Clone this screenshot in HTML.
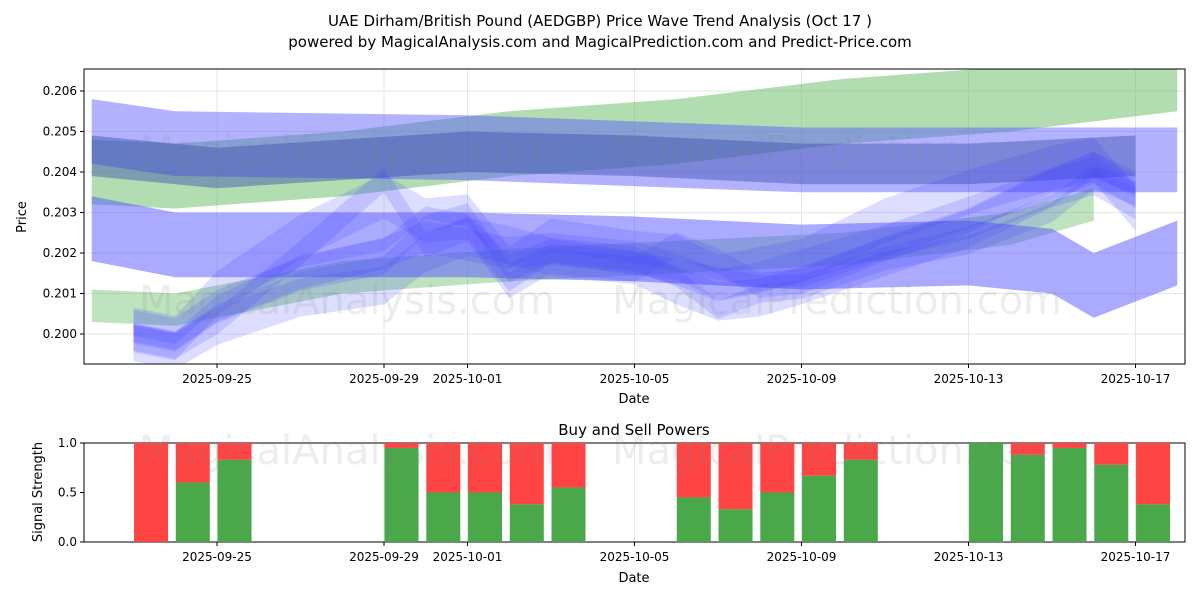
<!DOCTYPE html>
<html><head><meta charset="utf-8"><style>
body{margin:0;background:#fff;font-family:"Liberation Sans","DejaVu Sans",sans-serif}
svg text{font-family:"DejaVu Sans","Liberation Sans",sans-serif}
</style></head><body>
<svg id="c" width="1200" height="600" xmlns="http://www.w3.org/2000/svg">
<rect width="1200" height="600" fill="#fff"/>
<text x="600" y="26" text-anchor="middle" font-size="15">UAE Dirham/British Pound (AEDGBP) Price Wave Trend Analysis (Oct 17 )</text>
<text x="600" y="47" text-anchor="middle" font-size="15">powered by MagicalAnalysis.com and MagicalPrediction.com and Predict-Price.com</text>
<g id="top"></g><g id="bot"></g>
</svg>
<script>
const dayNames=["2025-09-25","2025-09-29","2025-10-01","2025-10-05","2025-10-09","2025-10-13","2025-10-17"];
const tickDays=[0,4,6,10,14,18,22];
const priceTicks=[0.200,0.201,0.202,0.203,0.204,0.205,0.206];
const greenDays1=[-3,-1,3,7,11,15,19,23];
const greenVals1=[0.2040,0.2039,0.2042,0.2047,0.2050,0.2055,0.2058,0.2063];
const greenDays2=[-3,-1,3,7,11,15,19,21];
const greenVals2=[0.2007,0.2006,0.2014,0.2017,0.2019,0.2021,0.2026,0.2032];
const bandADays=[-3,-1,6,14,23];const bandAVals=[0.2050,0.2047,0.2046,0.2043,0.2043];
const bandBDays=[-3,0,6,10,14,18,22];const bandBVals=[0.2044,0.2041,0.2045,0.2044,0.2042,0.2042,0.2044];
const bandCDays=[-3,-1,6,10,14,18,20,21,23];const bandCVals=[0.2026,0.2022,0.2022,0.2021,0.2019,0.2020,0.2018,0.2012,0.2020];
const waveDays=[-2,-1,0,2,4,5,6,7,8,10,11,12,13,14,16,18,20,21,22];
const waveVals=[
[0.2001,0.1999,0.2008,0.2018,0.2022,0.2030,0.2028,0.2018,0.2022,0.2019,0.2017,0.2015,0.2013,0.2013,0.2020,0.2025,0.2033,0.2040,0.2036],
[0.2000,0.1998,0.2005,0.2013,0.2017,0.2027,0.2030,0.2015,0.2020,0.2018,0.2014,0.2006,0.2010,0.2011,0.2018,0.2022,0.2030,0.2038,0.2034],
[0.1999,0.1997,0.2003,0.2020,0.2038,0.2022,0.2026,0.2012,0.2018,0.2016,0.2022,0.2018,0.2012,0.2013,0.2021,0.2028,0.2038,0.2042,0.2037],
[0.2002,0.2000,0.2007,0.2015,0.2020,0.2024,0.2022,0.2020,0.2021,0.2019,0.2016,0.2012,0.2014,0.2017,0.2023,0.2030,0.2037,0.2041,0.2035],
[0.1998,0.1996,0.2002,0.2009,0.2012,0.2020,0.2024,0.2022,0.2019,0.2017,0.2012,0.2008,0.2009,0.2012,0.2019,0.2026,0.2036,0.2039,0.2033],
[0.2001,0.1999,0.2010,0.2024,0.2034,0.2028,0.2029,0.2016,0.2023,0.2020,0.2019,0.2014,0.2016,0.2018,0.2028,0.2035,0.2041,0.2043,0.2031]];
const barDays=[-2,-1,0,4,5,6,7,8,11,12,13,14,15,18,19,20,21,22];
const buyVals=[0,0.6,0.83,0.95,0.5,0.5,0.38,0.55,0.45,0.33,0.5,0.67,0.83,1.0,0.88,0.95,0.78,0.38];

const NS="http://www.w3.org/2000/svg";
const L=84,R=1185,T=69,B=364,BT=443,BB=542;
const x=d=>217+d*41.75;
const y=p=>334-(p-0.2)*40500;
const yb=v=>BB-v*(BB-BT);
function el(tag,a,parent){const e=document.createElementNS(NS,tag);for(const k in a)e.setAttribute(k,a[k]);parent.appendChild(e);return e;}
const topG=document.getElementById('top'),botG=document.getElementById('bot');
const cp=el('clipPath',{id:'cp'},topG);el('rect',{x:L,y:T,width:R-L,height:B-T},cp);
for(const d of tickDays){const g=el('line',{x1:x(d),x2:x(d),y1:T,y2:B,stroke:'#e6e6e6'},topG);
const g2=el('line',{x1:x(d),x2:x(d),y1:BT,y2:BB,stroke:'#e6e6e6'},botG);}
for(const p of priceTicks){const g=el('line',{x1:L,x2:R,y1:y(p),y2:y(p),stroke:'#e6e6e6'},topG);}
const plot=el('g',{'clip-path':'url(#cp)'},topG);
function band(days,vals,hw,fill,op,name){
 const up=days.map((d,i)=>x(d)+','+y(vals[i]+hw)),dn=days.map((d,i)=>x(d)+','+y(vals[i]-hw)).reverse();
 const p=el('polygon',{points:up.concat(dn).join(' '),fill:fill,'fill-opacity':op},plot);
 }
band(greenDays1,greenVals1,0.0008,'#5cb85c',0.48,'green-band-upper');
band(greenDays2,greenVals2,0.0004,'#5cb85c',0.4,'green-band-lower');
band(bandADays,bandAVals,0.0008,'#5555ff',0.45,'blue-band-upper');
band(bandBDays,bandBVals,0.0005,'#3a4fb0',0.45,'blue-band-middle');
band(bandCDays,bandCVals,0.0008,'#5555ff',0.5,'blue-band-lower');
waveVals.forEach((v,i)=>band(waveDays,v,0.00015+i*0.00008,'#4444ff',0.18,'wave-band-'+(i+1)));
const svgRoot=document.getElementById('c');
[[347,150],[837,150],[347,300],[837,300],[347,450],[837,450]].forEach(([a,b])=>{const t=el('text',{x:a,y:b+14,'text-anchor':'middle','font-size':40,fill:'#888','fill-opacity':0.15},svgRoot);t.textContent=(a<600?'MagicalAnalysis.com':'MagicalPrediction.com');});
el('rect',{x:L,y:T,width:R-L,height:B-T,fill:'none',stroke:'#000'},topG);
el('rect',{x:L,y:BT,width:R-L,height:BB-BT,fill:'none',stroke:'#000'},botG);
tickDays.forEach((d,i)=>{
 el('line',{x1:x(d),x2:x(d),y1:B,y2:B+4,stroke:'#000'},topG);
 const t=el('text',{x:x(d),y:B+19,'text-anchor':'middle','font-size':12},topG);t.textContent=dayNames[i];
 el('line',{x1:x(d),x2:x(d),y1:BB,y2:BB+4,stroke:'#000'},botG);
 const t2=el('text',{x:x(d),y:BB+19,'text-anchor':'middle','font-size':12},botG);t2.textContent=dayNames[i];});
priceTicks.forEach(p=>{el('line',{x1:L-4,x2:L,y1:y(p),y2:y(p),stroke:'#000'},topG);
 const t=el('text',{x:L-7,y:y(p)+4,'text-anchor':'end','font-size':12},topG);t.textContent=p.toFixed(3);});
[0,0.5,1].forEach(v=>{el('line',{x1:L-4,x2:L,y1:yb(v),y2:yb(v),stroke:'#000'},botG);
 const t=el('text',{x:L-7,y:yb(v)+4,'text-anchor':'end','font-size':12},botG);t.textContent=v.toFixed(1);});
barDays.forEach((d,i)=>{const w=34,bx=x(d+0.42)-w/2;
 const r=el('rect',{x:bx,y:yb(1),width:w,height:yb(buyVals[i])-yb(1),fill:'#ff4444'},botG);
 const g=el('rect',{x:bx,y:yb(buyVals[i]),width:w,height:BB-yb(buyVals[i]),fill:'#4aa84a'},botG);});
function lab(txt,a,name,par){const t=el('text',a,par);t.textContent=txt;}
lab('Date',{x:634,y:403,'text-anchor':'middle','font-size':13},'x-axis-title',topG);
lab('Price',{x:26,y:217,'text-anchor':'middle','font-size':13,transform:'rotate(-90 26 217)'},'y-axis-title',topG);
lab('Buy and Sell Powers',{x:634,y:435,'text-anchor':'middle','font-size':15},'lower-chart-title',botG);
lab('Date',{x:634,y:582,'text-anchor':'middle','font-size':13},'x-axis-title',botG);
lab('Signal Strength',{x:42,y:492,'text-anchor':'middle','font-size':13,transform:'rotate(-90 42 492)'},'y-axis-title',botG);
</script></body></html>
